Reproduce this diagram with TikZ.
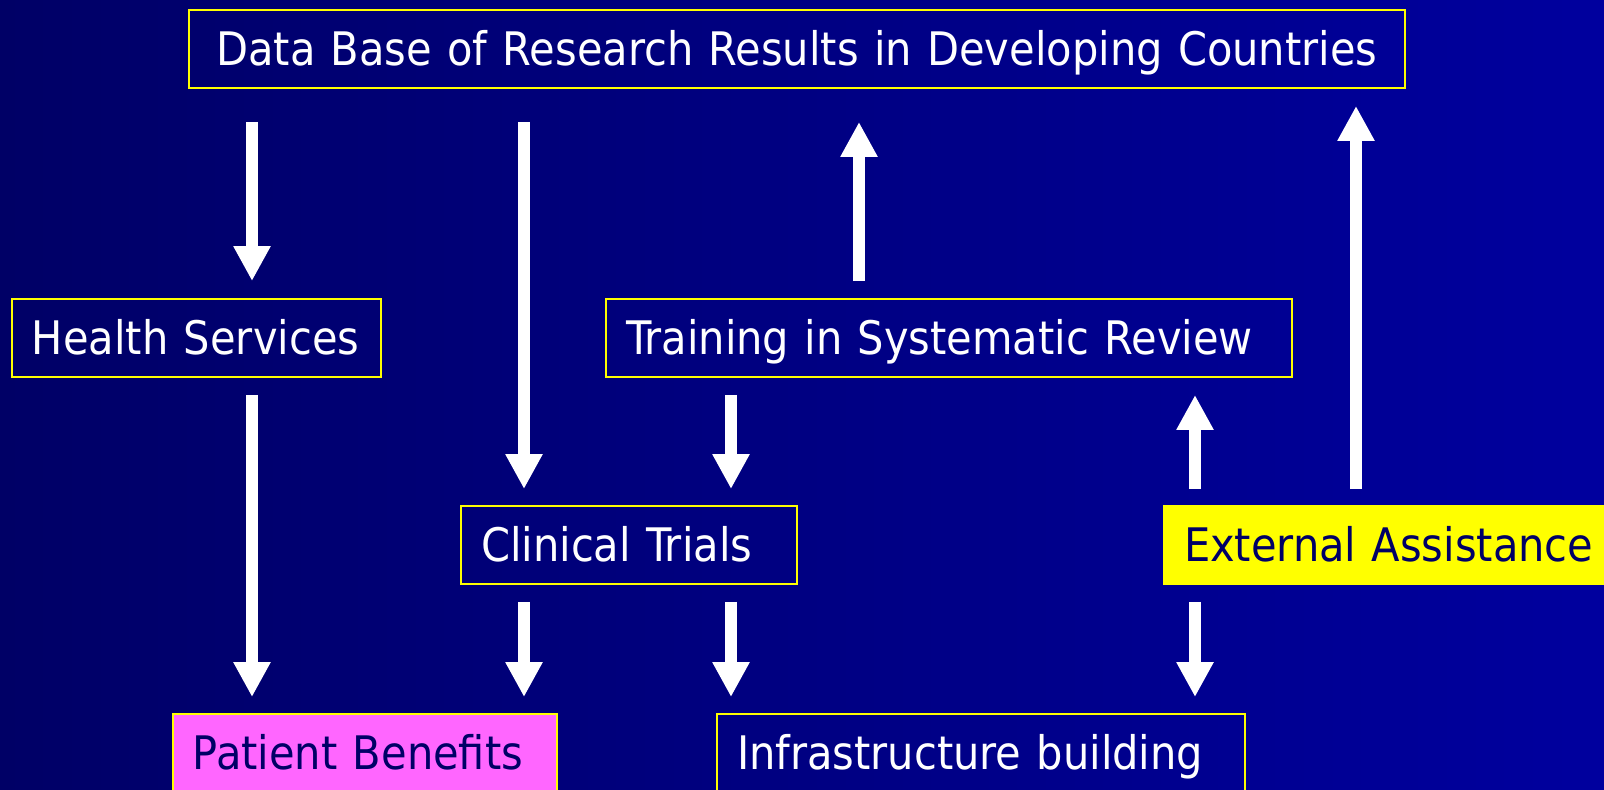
\documentclass[tikz,border=0pt]{standalone}
\usepackage{fontspec}
\setmainfont{DejaVu Sans Condensed}
\usetikzlibrary{arrows.meta}

\definecolor{navyleft}{RGB}{0,0,102}
\definecolor{navyright}{RGB}{0,0,158}
\definecolor{boxline}{RGB}{255,255,0}
\definecolor{pinkfill}{RGB}{255,102,255}
\definecolor{darktext}{RGB}{0,0,102}

\begin{document}
\begin{tikzpicture}[x=0.02cm,y=-0.02cm,>={Triangle[width=0.7cm,length=0.7cm]},
  box/.style={draw=boxline,line width=0.04cm,anchor=north west,inner xsep=0.4cm,
    minimum height=1.56cm,text height=0.67cm,text depth=0pt,align=left,text=white,
    font=\fontsize{26.3}{31}\selectfont},
  arr/.style={->,white,line width=0.24cm,shorten <=0.34cm,shorten >=0.34cm}]

  \useasboundingbox (0,0) rectangle (1604,789);
  \shade[left color=navyleft,right color=navyright] (0,0) rectangle (1604,789);

  \node[box,align=center,text width=23.52cm] (db) at (188,9)
    {Data Base of Research Results in Developing Countries};
  \node[box,text width=6.58cm] (hs) at (11,298) {Health Services};
  \node[box,text width=12.92cm] (tr) at (605,298) {Training in Systematic Review};
  \node[box,text width=5.92cm] (ct) at (460,505) {Clinical Trials};
  \node[box,text width=8.74cm,fill=boxline,text=darktext] (ea) at (1163,505) {External Assistance};
  \node[box,text width=6.88cm,fill=pinkfill,text=darktext] (pb) at (172,713) {Patient Benefits};
  \node[box,text width=9.76cm] (ib) at (716,713) {Infrastructure building};

  % arrow columns
  \coordinate (c1) at (252,0);
  \coordinate (c2) at (524,0);
  \coordinate (c3) at (731,0);
  \coordinate (c4) at (859,0);
  \coordinate (c5) at (1195,0);
  \coordinate (c6) at (1356,0);

  \draw[arr,shorten <=0.66cm] (db.south -| c1) -- (hs.north -| c1);
  \draw[arr,shorten <=0.66cm,shorten >=0.32cm] (db.south -| c2) -- (ct.north -| c2);
  \draw[arr,shorten >=0.66cm] (tr.north -| c4) -- (db.south -| c4);
  \draw[arr,shorten <=0.32cm] (ea.north -| c6) -- (db.south -| c6);
  \draw[arr,shorten >=0.32cm] (hs.south -| c1) -- (pb.north -| c1);
  \draw[arr,shorten >=0.32cm] (tr.south -| c3) -- (ct.north -| c3);
  \draw[arr,shorten <=0.32cm] (ea.north -| c5) -- (tr.south -| c5);
  \draw[arr,shorten >=0.32cm] (ct.south -| c2) -- (pb.north -| c2);
  \draw[arr,shorten >=0.32cm] (ct.south -| c3) -- (ib.north -| c3);
  \draw[arr,shorten >=0.32cm] (ea.south -| c5) -- (ib.north -| c5);
\end{tikzpicture}
\end{document}
